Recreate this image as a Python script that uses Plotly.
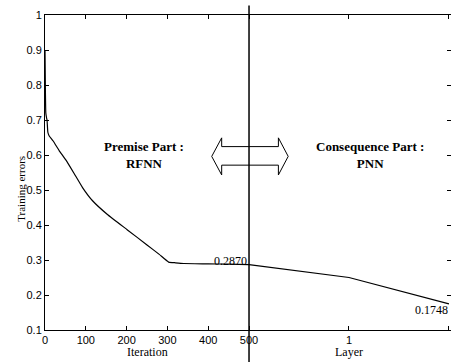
import plotly.graph_objects as go

# ---- data ----
iterations = [0, 1, 2, 4, 5, 7, 10, 20, 35, 51, 71, 92, 116, 153, 202, 250, 280, 303, 320, 340, 400, 450, 500]
iter_errors = [0.90, 0.78, 0.72, 0.705, 0.70, 0.665, 0.655, 0.64, 0.612, 0.586, 0.548, 0.507, 0.470,
               0.430, 0.386, 0.343, 0.316, 0.294, 0.292, 0.290, 0.289, 0.288, 0.287]
layers = [0, 1, 2]
layer_errors = [0.2870, 0.25, 0.1748]

iter_ticks = [0, 100, 200, 300, 400, 500]
layer_ticks = [1, 2]
y_ticks = [0.1, 0.2, 0.3, 0.4, 0.5, 0.6, 0.7, 0.8, 0.9, 1]

LAYER_SCALE = 245          # iteration-units per layer on the shared x axis
LAYER_OFFSET = 500

layer_x = [LAYER_OFFSET + l * LAYER_SCALE for l in layers]

serif = "Liberation Serif, Times New Roman, serif"
sans = "Liberation Sans, Arial, sans-serif"

fig = go.Figure()
fig.add_trace(go.Scatter(x=iterations, y=iter_errors, mode="lines",
                         line=dict(color="black", width=1.2, shape="spline", smoothing=0.4),
                         showlegend=False))
fig.add_trace(go.Scatter(x=layer_x, y=layer_errors, mode="lines",
                         line=dict(color="black", width=1.2), showlegend=False))

tickvals = iter_ticks + [LAYER_OFFSET + l * LAYER_SCALE for l in layer_ticks]
ticktext = [str(t) for t in iter_ticks] + [str(l) for l in layer_ticks]

fig.update_xaxes(range=[0, 995], tickvals=tickvals, ticktext=ticktext,
                 showline=True, linecolor="black", linewidth=1, mirror="allticks",
                 ticks="inside", ticklen=4, tickcolor="black",
                 showgrid=False, zeroline=False,
                 tickfont=dict(family=sans, size=11, color="black"))
fig.update_yaxes(range=[0.1, 1], tickvals=y_ticks, ticktext=[f"{v:g}" for v in y_ticks],
                 showline=True, linecolor="black", linewidth=1, mirror="allticks",
                 ticks="inside", ticklen=4, tickcolor="black",
                 showgrid=False, zeroline=False,
                 tickfont=dict(family=sans, size=11, color="black"))

# vertical separator line
fig.add_shape(type="line", xref="x", yref="paper", x0=500, x1=500, y0=-0.105, y1=1.03,
              line=dict(color="black", width=1.5))

# double-headed outline arrow
ax = [408.6, 433, 572, 596]
ay_top, ay_st, ay_mid, ay_sb, ay_bot = 0.649, 0.624, 0.596, 0.571, 0.543
path = (f"M {ax[0]},{ay_mid} L {ax[1]},{ay_top} L {ax[1]},{ay_st} L {ax[2]},{ay_st} "
        f"L {ax[2]},{ay_top} L {ax[3]},{ay_mid} L {ax[2]},{ay_bot} L {ax[2]},{ay_sb} "
        f"L {ax[1]},{ay_sb} L {ax[1]},{ay_bot} Z")
fig.add_shape(type="path", xref="x", yref="y", path=path,
              line=dict(color="black", width=1), fillcolor="rgba(0,0,0,0)")

ann = []
ann.append(dict(x=243, y=0.60, xref="x", yref="y", text="<b>Premise Part :<br>RFNN</b>",
                showarrow=False, font=dict(family=serif, size=13, color="black")))
ann.append(dict(x=797, y=0.60, xref="x", yref="y", text="<b>Consequence Part :<br>PNN</b>",
                showarrow=False, font=dict(family=serif, size=13, color="black")))
ann.append(dict(x=500, y=0.297, xref="x", yref="y", text="0.2870", xanchor="right",
                showarrow=False, font=dict(family=serif, size=12, color="black")))
ann.append(dict(x=993, y=0.157, xref="x", yref="y", text="0.1748", xanchor="right",
                showarrow=False, font=dict(family=serif, size=12, color="black")))
ann.append(dict(x=250, y=-0.097, xref="x", yref="paper", text="Iteration", yanchor="bottom",
                showarrow=False, font=dict(family=serif, size=12, color="black")))
ann.append(dict(x=745, y=-0.097, xref="x", yref="paper", text="Layer", yanchor="bottom",
                showarrow=False, font=dict(family=serif, size=12, color="black")))
ann.append(dict(x=-0.079, y=0.448, xref="paper", yref="paper", text="Training errors",
                textangle=-90, showarrow=False, font=dict(family=serif, size=11, color="black")))

fig.update_layout(width=451, height=362, margin=dict(l=45, r=0, t=15, b=32),
                  plot_bgcolor="white", paper_bgcolor="white", annotations=ann)

fig.write_html("out.html")
